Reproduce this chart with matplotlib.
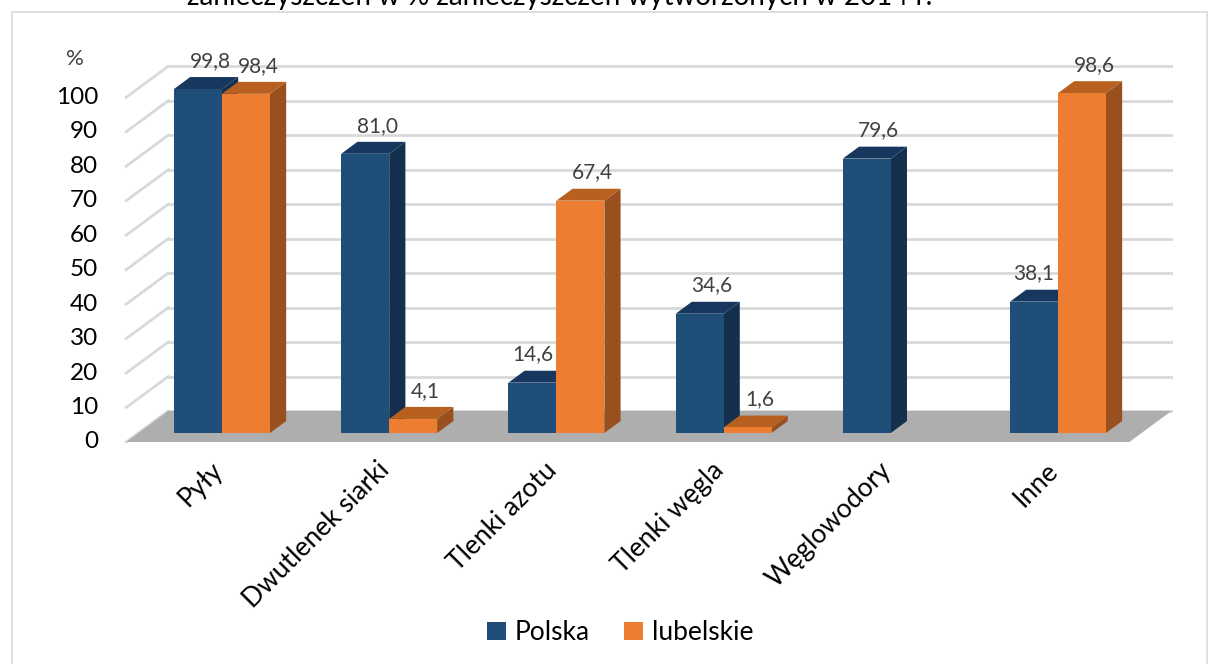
import matplotlib
matplotlib.use("Agg")
import matplotlib.pyplot as plt
from matplotlib.patches import Polygon, Rectangle, Patch
import numpy as np

plt.rcParams["font.family"] = ["Lato", "DejaVu Sans"]

# data
categories = ["Pyły", "Dwutlenek siarki", "Tlenki azotu", "Tlenki węgla", "Węglowodory", "Inne"]
polska = [99.8, 81.0, 14.6, 34.6, 79.6, 38.1]
lubelskie = [98.4, 4.1, 67.4, 1.6, np.nan, 98.6]
series_names = ["Polska", "lubelskie"]
yticks = list(range(0, 101, 10))
title_text = "zanieczyszczeń w % zanieczyszczeń wytworzonych w 2014 r."

# colours: front, top, side
blue = ("#1F4E79", "#17375E", "#15304F")
orange = ("#ED7D31", "#B8601F", "#9A501E")
grid_col = "#D9D9D9"
floor_col = "#AEAEAE"

# oblique projection of the depth axis (data units per unit of depth)
DX = 0.2515
DY = 9.0
bar_w = 0.287
bar_d = 0.385
floor_front = -0.29
back_wall = 0.71

fig = plt.figure(figsize=(12.09, 6.64), dpi=100)
ax = fig.add_axes([0, 0, 1, 1])
ax.set_xlim(-222 / 167.2, (1209 - 222) / 167.2)
ax.set_ylim((433 - 664) / 3.447, 433 / 3.447)
ax.axis("off")

# outer frame of the chart
fig.patches.append(Rectangle((12 / 1209, -0.05), 1195 / 1209, 1.05 - 12 / 664,
                             transform=fig.transFigure, fill=False,
                             edgecolor="#D9D9D9", linewidth=1.2))

x_left, x_right = -0.5, 5.5

# gridlines: back wall + left side wall
for v in yticks:
    ax.plot([x_left + back_wall * DX, x_right + back_wall * DX],
            [v + back_wall * DY, v + back_wall * DY], color=grid_col, lw=2, zorder=1)
    ax.plot([x_left + floor_front * DX, x_left + back_wall * DX],
            [v + floor_front * DY, v + back_wall * DY], color=grid_col, lw=2, zorder=1)

# floor
ax.add_patch(Polygon([(x_left + floor_front * DX, floor_front * DY),
                      (x_right + floor_front * DX, floor_front * DY),
                      (x_right + back_wall * DX, back_wall * DY),
                      (x_left + back_wall * DX, back_wall * DY)],
                     closed=True, facecolor=floor_col, edgecolor="none", zorder=2))


def bar3d(x0, h, cols, z):
    ox, oy = bar_d * DX, bar_d * DY
    front = Polygon([(x0, 0), (x0 + bar_w, 0), (x0 + bar_w, h), (x0, h)],
                    closed=True, facecolor=cols[0], edgecolor="none", zorder=z)
    top = Polygon([(x0, h), (x0 + bar_w, h), (x0 + bar_w + ox, h + oy), (x0 + ox, h + oy)],
                  closed=True, facecolor=cols[1], edgecolor="none", zorder=z)
    side = Polygon([(x0 + bar_w, 0), (x0 + bar_w + ox, oy), (x0 + bar_w + ox, h + oy),
                    (x0 + bar_w, h)],
                   closed=True, facecolor=cols[2], edgecolor="none", zorder=z)
    for p in (side, top, front):
        ax.add_patch(p)


z = 3
for i in range(len(categories)):
    for k, (vals, cols) in enumerate([(polska, blue), (lubelskie, orange)]):
        v = vals[i]
        if np.isnan(v):
            continue
        x0 = i - bar_w + k * bar_w
        bar3d(x0, v, cols, z)
        z += 1
        # label over the bar top; pulled left when the next bar is taller
        shift = 0.072
        if k == 0 and not np.isnan(lubelskie[i]) and lubelskie[i] > v + 10:
            shift = 0.0
        ax.text(x0 + bar_w / 2 + shift, v + bar_d * DY + 1.8,
                ("%.1f" % v).replace(".", ","), ha="center", va="bottom",
                fontsize=15, color="#404040", zorder=50)

# y tick labels
for v in yticks:
    ax.text(x_left + floor_front * DX - 0.167, v + floor_front * DY, str(v),
            ha="right", va="center", fontsize=17.5, color="black")
ax.text(-0.88, 108.5, "%", ha="center", va="center", fontsize=16, color="#404040")

# category labels
for i, name in enumerate(categories):
    ax.text(i + floor_front * DX, floor_front * DY - 4.5, name,
            rotation=45, rotation_mode="anchor", ha="right", va="top",
            fontsize=19, color="black")

# legend
handles = [Patch(facecolor=blue[0], label=series_names[0]),
           Patch(facecolor=orange[0], label=series_names[1])]
fig.legend(handles=handles, loc="center", bbox_to_anchor=(0.513, 0.047), ncol=2,
           frameon=False, fontsize=19, handlelength=0.7, handleheight=0.7,
           handletextpad=0.35, columnspacing=1.3)

# clipped heading text from the page above the chart
fig.text(560 / 1209, 1 - 5 / 664, title_text, ha="center", va="baseline",
         fontsize=20, color="black")

fig.savefig("out.png", dpi=100)
